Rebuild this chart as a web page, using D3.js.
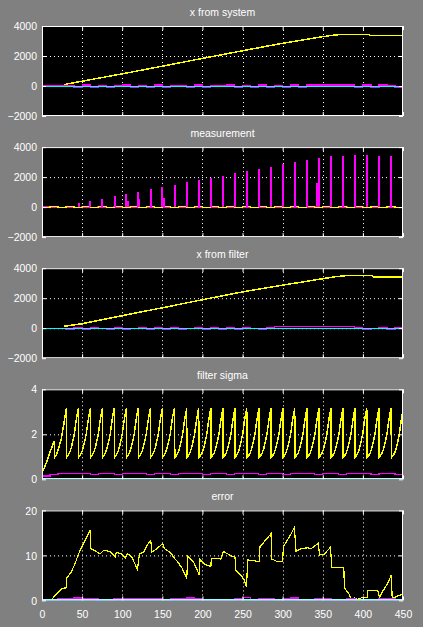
<!DOCTYPE html>
<html>
<head>
<meta charset="utf-8">
<script src="https://cdn.jsdelivr.net/npm/d3@7"></script>
<style>
  body { margin: 0; background: #808080; }
  text { font-family: "Liberation Sans", Arial, sans-serif; font-size: 10.5px; fill: #fff; }
</style>
</head>
<body>
<div id="canvas"></div>
<script>
"use strict"

let svgWidth = 423;
let svgHeight = 627;
let left = 42;       // left edge of every plot box
let plotW = 361;
let plotH = 90;
let firstTop = 26;
let panelGap = 121.1;

/* Data */
let titles = ["x from system", "measurement", "x from filter", "filter sigma", "error"];
let xTicks = [0, 50, 100, 150, 200, 250, 300, 350, 400, 450];
let posTicks = [-2000, 0, 2000, 4000];
let sigmaTicks = [0, 2, 4];
let errorTicks = [0, 10, 20];

// sample times for the noisy near-zero series (every 10 steps)
let noiseT = d3.range(0, 451, 10);

// x from system
let sysYellow = [[28, 100], [50, 320], [100, 810], [150, 1320], [200, 1840], [250, 2350],
    [300, 2850], [350, 3290], [365, 3400], [376, 3447], [408, 3447], [409, 3380], [450, 3380]];
let sysMagenta = [0, 0, 0, 0, -60, 70, -60, 0, -70, 60, 70, -60, 0, -60, 70, -60,
    60, 0, -60, 70, -70, 60, 0, 70, -60, 60, -60, 70, -60, 0, -60, 70, -60,
    70, 70, 70, 70, 70, 70, -60, 70, -60, 70, 0, -60, 70];
let sysCyan = [[0, 0], [450, 0]];

// measurement
let measYellow = [0, 20, -20, 30, -30, 40, -40, 30, -30, 40, -40, 50, -40, 30, -30, 50,
    -50, 40, -40, 30, -50, 60, -40, 50, -30, 40, -50, 60, -40, 30, -40, 50, -30, 40,
    -50, 40, -40, 50, -30, 60, -40, 50, -40, 30, -50, 40];
let measMagenta = [0, 10, -10, 20, -20, 10, -20, 20, -10, 20, -20, 10, -20, 20, -10, 20,
    -20, 10, -20, 20, -10, 20, -20, 10, -20, 20, -10, 20, -20, 10, -20, 20, -10, 20,
    -20, 10, -20, 20, -10, 20, -20, 10, -20, 20, -10, 20];
let spikeT = [45.7, 60.2, 75.2, 90.6, 105.1, 120, 135.5, 150, 165.4, 180.4, 195.3, 210.3,
    225.6, 240.6, 255.1, 270.5, 285.5, 300.4, 315, 330.3, 345.3, 360.3, 375.2, 390.2,
    404.8, 420, 435, 450];
let spikeV = [290, 420, 550, 750, 890, 1020, 1220, 1330, 1490, 1690, 1820, 1970,
    2090, 2290, 2420, 2550, 2690, 2890, 3020, 3150, 3290, 3420, 3420, 3490,
    3490, 3420, 3420, 3420];
let smallSpikeT = [106.6, 121.5, 151.5, 343.2];
let smallSpikeV = [440, 550, 620, 1620];

// x from filter
let filtYellow = [[28, 130], [50, 300], [100, 840], [150, 1360], [200, 1900], [250, 2420],
    [300, 2870], [350, 3300], [365, 3430], [380, 3510], [412, 3510], [413, 3430], [450, 3430]];
let filtMagenta = [0, 0, 0, -60, 70, -60, 70, 0, -60, 70, -60, 0, 70, -60, 60, -60,
    70, -60, 0, 70, -60, 70, -60, 60, -60, 70, 0, -60, 70, 110, 110, 110, 110, 110,
    110, 110, 110, 110, 110, 70, -60, 0, 70, -60, 70, 0];
let filtCyan = [[0, 0], [450, 0]];

// filter sigma: first rise, then one sawtooth cycle repeated at the read peak times
let sigmaStart = [[0, 0.3], [3, 0.5], [6, 0.8], [9, 1.1], [12, 1.4], [15.4, 1.71],
    [15.6, 0.97], [18, 1.1], [21, 1.4], [24, 1.8], [27, 2.4], [30.3, 3.15]];
let sigmaPeaks = [45.3, 60.2, 75.2, 90.1, 105.1, 120, 135, 150, 164.9, 180.4, 195.3,
    210.5, 225.6, 240.6, 255.2, 270.5, 285.5, 300.4, 315, 330.3, 345.3, 360.2, 375.2,
    390.2, 404.8, 420.1, 435, 450.5];
let sigmaCycle = [[0.2, 0.97], [2, 1.05], [4, 1.17], [6, 1.38], [8, 1.68], [10, 2.02],
    [12, 2.55], [13.5, 2.88], [15, 3.15]];
let sigmaMagenta = [0.15, 0.2, 0.24, 0.27, 0.24, 0.27, 0.22, 0.27, 0.24, 0.22, 0.27,
    0.24, 0.27, 0.22, 0.27, 0.24, 0.22, 0.27, 0.24, 0.27, 0.22, 0.27, 0.24, 0.22, 0.27,
    0.24, 0.27, 0.22, 0.27, 0.24, 0.22, 0.27, 0.24, 0.27, 0.22, 0.27, 0.24, 0.22, 0.27,
    0.24, 0.27, 0.22, 0.27, 0.24, 0.22, 0.27];
let sigmaCyan = [[0, 0.03], [450, 0.03]];

// error
let errYellow = [[0, 0], [12, 0.2], [17.4, 1.35], [24.5, 2.6], [30, 2.8], [30.7, 4.9],
    [36.1, 6.2], [41.1, 8.1], [44, 9.6], [46.5, 10.7], [51.5, 12.6], [56.5, 14.4],
    [60.3, 15.7], [60.6, 11.5], [66, 11.1], [72.3, 10.3], [76.8, 11.1], [85.1, 10.9],
    [91.3, 9.6], [92.6, 10.7], [99.7, 10.3], [103.8, 9.4], [106.7, 10.4], [112, 9.6],
    [119, 6.9], [121.5, 10.3], [126.5, 10.7], [130.7, 12.2], [135.6, 13.3], [136.9, 10.7],
    [143, 11.5], [150.5, 12.6], [152.6, 11.5], [159.7, 10.7], [165.9, 9.2], [168, 8.8],
    [174.2, 7.3], [180.5, 4.9], [181.6, 9.8], [188.7, 8.6], [196.2, 5.6], [197, 9.1],
    [203.2, 8.0], [210.5, 7.5], [211, 9.2], [215, 9.3], [223, 9.2], [226, 10.9],
    [235.6, 9.9], [240.6, 9.6], [241.8, 6.6], [248, 5.6], [252.2, 4.5], [255, 2.9],
    [256.3, 9.0], [264.6, 8.8], [270.9, 8.6], [271.7, 11.9], [279.2, 13.5], [285.5, 14.8],
    [286.3, 9.2], [293.8, 8.6], [300, 8.6], [300.9, 12.0], [308.4, 14.1], [314.6, 16.2],
    [316.7, 10.9], [322.9, 11.5], [331.3, 11.7], [335.4, 11.5], [344.6, 12.7], [345.8, 10.1],
    [352, 10.3], [359.6, 11.8], [361.2, 7.3], [370.8, 7.3], [376.2, 7.2], [377, 2.8],
    [383.2, 1.3], [385.3, 0.2], [389.5, 0.6], [393.6, 0.2], [399.9, 0.7], [405.3, 0.7],
    [406.2, 2.1], [412.4, 2.2], [418.7, 2.1], [420.8, 0.7], [425, 2.1], [431.2, 3.9],
    [435.3, 5.6], [436.6, 0.4], [443.7, 1.0], [450, 1.35]];
let errMagenta = [0, 0, 0.3, 0.4, 0.5, 0.4, 0.3, 0, 0, 0.3, 0.3, 0.4, 0.4, 0.3, 0.3, 0,
    0.4, 0.4, 0.5, 0.4, 0, 0, 0, 0, 0.3, 0.6, 0, 0.4, 0.4, 0, 0.4, 0.5, 0, 0, 0.3, 0.3,
    0, 0, 0.4, 0, 0, 0, 0.4, 0.4, 0, 0];
let errCyan = [[0, 0.05], [450, 0.05]];

/* helpers to pair values with times */
function withTimes(values) {
    return values.map(function (v, i) { return [noiseT[i], v]; });
}

let sigmaYellow = sigmaStart.slice();
sigmaPeaks.forEach(function (peak) {
    sigmaCycle.forEach(function (p) {
        sigmaYellow.push([peak - 15 + p[0], p[1]]);
    });
});

let panels = [
    {domain: [-2000, 4000], ticks: posTicks, series: [
        {data: sysYellow, color: "#ffff00", curve: d3.curveLinear, width: 1.5},
        {data: withTimes(sysMagenta), color: "#ff00ff", curve: d3.curveStepAfter, width: 1.2},
        {data: sysCyan, color: "#00ffff", curve: d3.curveLinear, width: 1}]},
    {domain: [-2000, 4000], ticks: posTicks, series: [
        {data: withTimes(measMagenta), color: "#ff00ff", curve: d3.curveStepAfter, width: 1.5},
        {data: withTimes(measYellow), color: "#ffff00", curve: d3.curveStepAfter, width: 1.2}]},
    {domain: [-2000, 4000], ticks: posTicks, series: [
        {data: filtYellow, color: "#ffff00", curve: d3.curveLinear, width: 1.5},
        {data: withTimes(filtMagenta), color: "#ff00ff", curve: d3.curveStepAfter, width: 1.2},
        {data: filtCyan, color: "#00ffff", curve: d3.curveLinear, width: 1}]},
    {domain: [0, 4], ticks: sigmaTicks, series: [
        {data: sigmaYellow, color: "#ffff00", curve: d3.curveLinear, width: 1.5},
        {data: withTimes(sigmaMagenta), color: "#ff00ff", curve: d3.curveStepAfter, width: 1.2},
        {data: sigmaCyan, color: "#00ffff", curve: d3.curveLinear, width: 1.5}]},
    {domain: [0, 20], ticks: errorTicks, series: [
        {data: errYellow, color: "#ffff00", curve: d3.curveLinear, width: 1.2},
        {data: withTimes(errMagenta), color: "#ff00ff", curve: d3.curveStepAfter, width: 1.5},
        {data: errCyan, color: "#00ffff", curve: d3.curveLinear, width: 1.5}]}
];

let svg = d3.select("#canvas")
    .append("svg")
    .attr("width", svgWidth)
    .attr("height", svgHeight);

svg.append("rect")
    .attr("width", svgWidth)
    .attr("height", svgHeight)
    .attr("fill", "#808080");

let xScale = d3.scaleLinear()
    .domain([0, 450])
    .range([0, plotW]);

panels.forEach(function (panel, i) {
    let top = firstTop + i * panelGap;
    let g = svg.append("g").attr("transform", "translate(" + left + "," + top + ")");

    let yScale = d3.scaleLinear()
        .domain(panel.domain)
        .range([plotH, 0]);

    g.append("rect")
        .attr("width", plotW)
        .attr("height", plotH)
        .attr("fill", "#000");

    g.append("clipPath")
        .attr("id", "clip" + i)
        .append("rect")
        .attr("width", plotW)
        .attr("height", plotH);

    /* dotted grid */
    let innerX = xTicks.slice(1, -1);
    let innerY = panel.ticks.slice(1, -1);
    g.selectAll("line.gx")
        .data(innerX)
        .join("line")
        .attr("class", "gx")
        .attr("x1", d => Math.round(xScale(d)) + 0.5)
        .attr("x2", d => Math.round(xScale(d)) + 0.5)
        .attr("y1", 0)
        .attr("y2", plotH)
        .attr("stroke", "#fff")
        .attr("stroke-dasharray", "1,3");
    g.selectAll("line.gy")
        .data(innerY)
        .join("line")
        .attr("class", "gy")
        .attr("x1", 0)
        .attr("x2", plotW)
        .attr("y1", d => Math.round(yScale(d)) + 0.5)
        .attr("y2", d => Math.round(yScale(d)) + 0.5)
        .attr("stroke", "#fff")
        .attr("stroke-dasharray", "1,3");

    /* data lines */
    let plot = g.append("g").attr("clip-path", "url(#clip" + i + ")");
    panel.series.forEach(function (s) {
        let line = d3.line()
            .x(d => xScale(d[0]))
            .y(d => yScale(d[1]))
            .curve(s.curve);
        plot.append("path")
            .attr("d", line(s.data))
            .attr("fill", "none")
            .attr("stroke", s.color)
            .attr("stroke-width", s.width)
            .attr("shape-rendering", "crispEdges");
    });

    if (i === 1) {
        // measurement spikes
        plot.selectAll("line.spike")
            .data(spikeT.map((t, k) => [t, spikeV[k]]).concat(smallSpikeT.map((t, k) => [t, smallSpikeV[k]])))
            .join("line")
            .attr("class", "spike")
            .attr("x1", d => xScale(d[0]))
            .attr("x2", d => xScale(d[0]))
            .attr("y1", yScale(0))
            .attr("y2", d => yScale(d[1]))
            .attr("stroke", "#ff00ff")
            .attr("stroke-width", 2)
            .attr("shape-rendering", "crispEdges");
    }

    /* axes: ticks pointing inward on all four sides */
    let bottom = d3.axisBottom(xScale).tickValues(xTicks).tickSize(-4).tickPadding(10)
        .tickFormat(i === 4 ? d3.format("d") : () => "");
    let topAx = d3.axisTop(xScale).tickValues(xTicks).tickSize(-4).tickFormat(() => "");
    let leftAx = d3.axisLeft(yScale).tickValues(panel.ticks).tickSize(-4).tickPadding(5)
        .tickFormat(d3.format("d"));
    let rightAx = d3.axisRight(yScale).tickValues(panel.ticks).tickSize(-4).tickFormat(() => "");

    let axes = [
        g.append("g").attr("transform", "translate(0," + plotH + ")").call(bottom),
        g.append("g").call(topAx),
        g.append("g").call(leftAx),
        g.append("g").attr("transform", "translate(" + plotW + ",0)").call(rightAx)
    ];
    axes.forEach(function (a) {
        a.select(".domain").remove();
        a.selectAll("line").attr("stroke", "#fff");
        a.selectAll("text")
            .attr("fill", "#fff")
            .style("font-family", "'Liberation Sans', Arial, sans-serif")
            .style("font-size", "10.5px");
    });
    axes[2].selectAll("text").attr("dy", "0.35em");

    g.append("rect")
        .attr("x", 0.5)
        .attr("y", 0.5)
        .attr("width", plotW - 1)
        .attr("height", plotH - 1)
        .attr("fill", "none")
        .attr("stroke", "#fff");

    g.append("text")
        .attr("x", plotW / 2)
        .attr("y", -10)
        .attr("text-anchor", "middle")
        .text(titles[i]);
});
</script>
</body>
</html>
